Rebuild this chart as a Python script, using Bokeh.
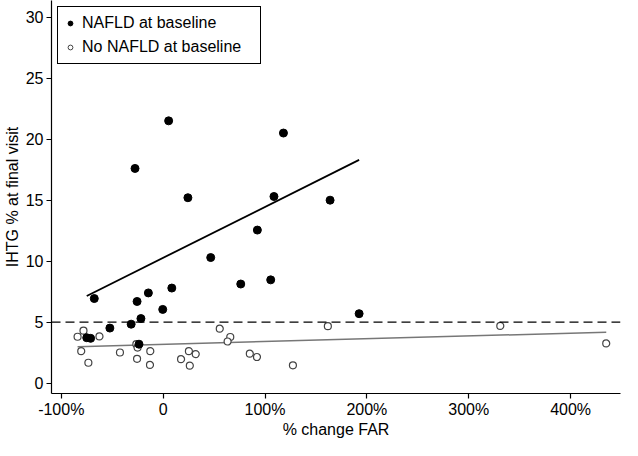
import numpy as np
from bokeh.plotting import figure
from bokeh.models import Span, Legend, LegendItem, FixedTicker, Range1d
from bokeh.embed import file_html
from bokeh.resources import INLINE

# NAFLD at baseline (filled)
nafld_x = [5.4, 118.1, -27.6, 24.3, 108.8, 163.9, 92.5, 46.7, 76.2, 105.6, -67.6,
           -25.6, -14.5, 8.5, -0.4, -21.8, -31.4, -52.3, -75.0, -71.2, -23.7, 192.4]
nafld_y = [21.5, 20.5, 17.6, 15.2, 15.3, 15.0, 12.55, 10.3, 8.13, 8.47, 6.94,
           6.7, 7.4, 7.8, 6.05, 5.3, 4.84, 4.52, 3.73, 3.68, 3.2, 5.7]

# No NAFLD at baseline (hollow)
no_x = [-84.0, -78.2, -62.5, -80.4, -73.4, -42.4, -26.3, -25.1, -25.6, -12.6, -12.9,
        17.6, 25.3, 32.0, 26.2, 55.6, 65.9, 63.3, 85.1, 92.1, 127.4, 161.7, 331.0, 435.0]
no_y = [3.81, 4.31, 3.84, 2.63, 1.68, 2.52, 3.2, 2.92, 2.0, 2.63, 1.5,
        1.97, 2.63, 2.39, 1.44, 4.47, 3.79, 3.42, 2.42, 2.15, 1.47, 4.68, 4.7, 3.26]

# fitted-line values at each group's min / max x
nafld_fit_y = [7.15, 18.3]
no_fit_y = [3.0, 4.18]

threshold = 5
x_ticks = [-100, 0, 100, 200, 300, 400]
x_tick_labels = ["-100%", "0", "100%", "200%", "300%", "400%"]
y_ticks = [0, 5, 10, 15, 20, 25, 30]

FONT = "Liberation Sans"
FS = "16px"

p = figure(width=622, height=440, output_backend="svg", toolbar_location=None,
           x_range=Range1d(-109.6, 449), y_range=Range1d(-0.84, 31.36),
           min_border_left=45, min_border_right=2, min_border_top=0, min_border_bottom=40)
p.outline_line_color = None
p.xgrid.visible = False
p.ygrid.visible = False
p.background_fill_color = "white"
p.border_fill_color = "white"

p.add_layout(Span(location=threshold, dimension="width", line_color="black",
                  line_width=1.3, line_dash="9 5"))

p.line([min(no_x), max(no_x)], no_fit_y, line_color="#777777", line_width=1.5)
p.line([min(nafld_x), max(nafld_x)], nafld_fit_y, line_color="black", line_width=1.8)

p.scatter(no_x, no_y, size=7, marker="circle", fill_color="white",
          line_color="#444444", line_width=1.2)
p.scatter(nafld_x, nafld_y, size=8, marker="circle", fill_color="black",
          line_color="black")

# legend with small markers
l_naf = p.scatter([np.nan], [np.nan], size=5, marker="circle", fill_color="black", line_color="black")
l_no = p.scatter([np.nan], [np.nan], size=5, marker="circle", fill_color="white",
                 line_color="#444444", line_width=1)
legend = Legend(items=[LegendItem(label="NAFLD at baseline", renderers=[l_naf]),
                       LegendItem(label="No NAFLD at baseline", renderers=[l_no])],
                location="top_left", margin=6)
legend.label_text_font = FONT
legend.label_text_font_size = FS
legend.label_text_color = "black"
legend.label_height = 20
legend.label_width = 172
legend.glyph_height = 12
legend.glyph_width = 12
legend.label_standoff = 6
legend.spacing = 4
legend.padding = 6
legend.border_line_color = "black"
legend.border_line_width = 1.3
legend.border_line_alpha = 1
legend.background_fill_color = "white"
legend.background_fill_alpha = 1
p.add_layout(legend, "center")

# axes
xa = p.xaxis[0]
xa.ticker = FixedTicker(ticks=x_ticks)
xa.major_label_overrides = {t: l for t, l in zip(x_ticks, x_tick_labels)}
xa.axis_label = "% change FAR"
ya = p.yaxis[0]
ya.ticker = FixedTicker(ticks=y_ticks)
ya.axis_label = "IHTG % at final visit"
for ax in (xa, ya):
    ax.minor_tick_line_color = None
    ax.major_tick_out = 5
    ax.major_tick_in = 0
    ax.axis_line_color = "black"
    ax.axis_line_width = 1.2
    ax.major_tick_line_color = "black"
    ax.major_tick_line_width = 1.2
    ax.major_label_text_font = FONT
    ax.major_label_text_font_size = FS
    ax.major_label_text_color = "black"
    ax.axis_label_text_font = FONT
    ax.axis_label_text_font_size = FS
    ax.axis_label_text_font_style = "normal"
    ax.axis_label_text_color = "black"
xa.major_label_standoff = 2
xa.axis_label_standoff = 0
ya.major_label_standoff = 3
ya.axis_label_standoff = 2

open("out.html", "w").write(file_html(p, INLINE))
